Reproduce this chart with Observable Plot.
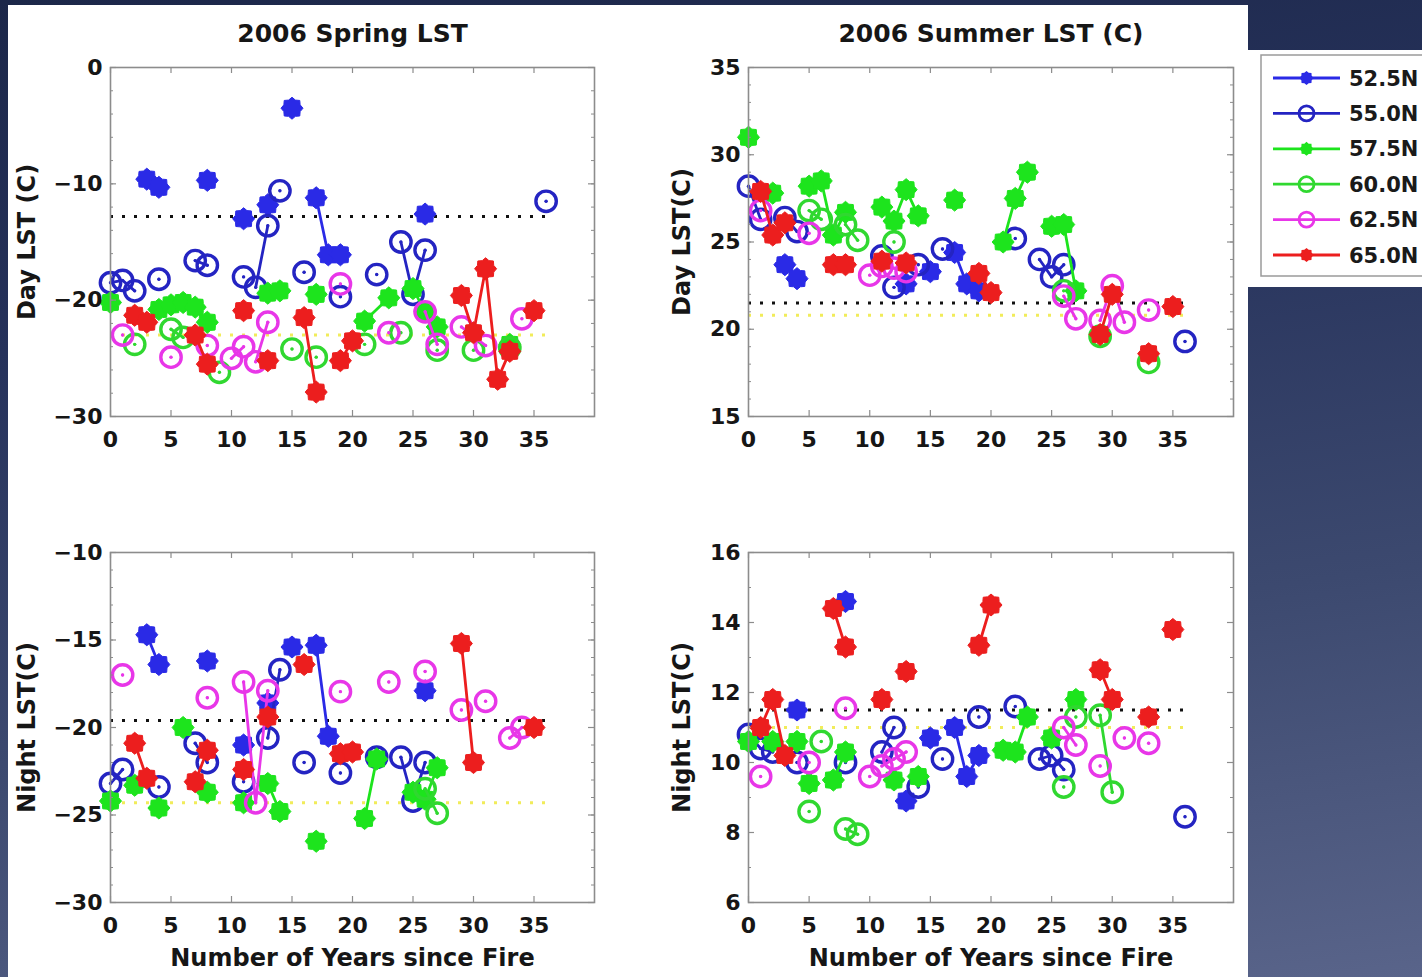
<!DOCTYPE html>
<html>
<head>
<meta charset="utf-8">
<script src="https://cdn.jsdelivr.net/npm/d3@7"></script>
<script src="https://cdn.jsdelivr.net/npm/@observablehq/plot@0.6"></script>
<style>
  html, body { margin: 0; padding: 0; }
  body {
    width: 1422px; height: 977px; overflow: hidden; position: relative;
    background: linear-gradient(172deg, #1c2749 0%, #26325b 30%, #3c496f 65%, #59648a 100%);
  }
  #sheet { position: absolute; left: 8px; top: 5px; width: 1240px; height: 972px; background: #fff; }
  .panel { position: absolute; }
  #legend { position: absolute; left: 1247px; top: 50px; width: 175px; height: 237px; background: #fff; }
</style>
</head>
<body>
<div id="sheet"></div>
<div id="legend"></div>
<script>
// Latitude bands, their colours and whether the marker is a filled burst or an open ring
const SERIES = ["52.5N", "55.0N", "57.5N", "60.0N", "62.5N", "65.0N"];
const COLORS = ["#2a2ae6", "#2424c2", "#1de41d", "#30d830", "#e836e8", "#ec1e1e"];
const FILLED = [true, false, true, false, false, true];

const xTicks = [0, 5, 10, 15, 20, 25, 30, 35];

// Rows: [series index, segment id, years since fire, LST]
const springDay = [
  [0,"a",3,-9.6],[0,"a",4,-10.3],[0,"b",8,-9.7],[0,"c",11,-13.0],[0,"d",13,-11.8],[0,"e",15,-3.5],
  [0,"f",17,-11.2],[0,"f",18,-16.1],[0,"f",19,-16.1],[0,"g",26,-12.6],
  [1,"a",0,-18.5],[1,"a",1,-18.3],[1,"a",2,-19.2],[1,"b",4,-18.2],[1,"c",7,-16.6],[1,"c",8,-17.0],
  [1,"d",11,-18.0],[1,"e",12,-18.9],[1,"e",13,-13.6],[1,"f",14,-10.6],[1,"g",16,-17.6],[1,"h",19,-19.7],
  [1,"i",22,-17.8],[1,"j",24,-15.0],[1,"j",25,-19.5],[1,"j",26,-15.7],[1,"k",36,-11.5],
  [2,"a",0,-20.2],[2,"b",4,-20.8],[2,"b",5,-20.4],[2,"b",6,-20.2],[2,"b",7,-20.6],[2,"b",8,-21.9],
  [2,"c",13,-19.4],[2,"c",14,-19.2],[2,"d",17,-19.5],[2,"e",21,-21.8],[2,"e",23,-19.8],
  [2,"f",25,-19.0],[2,"f",26,-21.0],[2,"f",27,-22.3],[2,"g",33,-23.8],
  [3,"a",2,-23.8],[3,"b",5,-22.5],[3,"b",6,-23.2],[3,"c",9,-26.2],[3,"d",15,-24.2],[3,"e",17,-24.9],
  [3,"f",21,-23.8],[3,"g",24,-22.8],[3,"h",27,-24.3],[3,"i",30,-24.3],[3,"j",33,-24.1],
  [4,"a",1,-23.0],[4,"b",5,-24.9],[4,"c",8,-23.9],[4,"d",10,-25.0],[4,"d",11,-24.0],[4,"e",12,-25.3],
  [4,"e",13,-21.9],[4,"f",19,-18.6],[4,"g",23,-22.8],[4,"h",26,-21.0],[4,"h",27,-23.8],
  [4,"i",29,-22.3],[4,"i",31,-23.9],[4,"j",34,-21.6],
  [5,"a",2,-21.3],[5,"a",3,-21.9],[5,"b",7,-23.0],[5,"b",8,-25.5],[5,"c",11,-20.9],[5,"d",13,-25.2],
  [5,"e",16,-21.5],[5,"e",17,-27.9],[5,"f",19,-25.2],[5,"f",20,-23.5],
  [5,"g",29,-19.6],[5,"g",30,-22.8],[5,"g",31,-17.3],[5,"g",32,-26.8],[5,"g",33,-24.4],[5,"h",35,-20.9]
];
const summerDay = [
  [0,"a",3,23.7],[0,"a",4,22.9],[0,"b",13,22.6],[0,"c",15,23.3],[0,"d",17,24.4],[0,"d",18,22.6],[0,"d",19,22.2],
  [1,"a",0,28.2],[1,"a",1,26.3],[1,"b",3,26.4],[1,"b",4,25.6],[1,"c",11,24.2],[1,"d",12,22.4],[1,"e",14,23.7],
  [1,"f",16,24.6],[1,"g",22,25.2],[1,"h",24,24.0],[1,"h",25,23.0],[1,"h",26,23.7],[1,"i",36,19.3],
  [2,"a",0,31.0],[2,"b",2,27.8],[2,"c",5,28.2],[2,"c",6,28.5],[2,"c",7,25.4],[2,"c",8,26.7],
  [2,"d",11,27.0],[2,"d",12,26.2],[2,"d",13,28.0],[2,"d",14,26.5],[2,"e",17,27.4],
  [2,"f",21,25.0],[2,"f",22,27.5],[2,"f",23,29.0],[2,"g",25,25.9],[2,"g",26,26.0],[2,"g",27,22.2],
  [3,"a",5,26.8],[3,"a",6,26.3],[3,"b",8,26.0],[3,"b",9,25.1],[3,"c",12,25.0],[3,"d",26,22.2],
  [3,"e",29,19.6],[3,"f",33,18.1],
  [4,"a",1,26.8],[4,"b",5,25.5],[4,"c",10,23.1],[4,"d",11,23.6],[4,"d",12,23.5],[4,"d",13,23.3],
  [4,"e",26,21.9],[4,"e",27,20.6],[4,"f",29,20.5],[4,"f",30,22.5],[4,"f",31,20.4],[4,"g",33,21.1],
  [5,"a",1,27.9],[5,"a",2,25.4],[5,"a",3,26.1],[5,"b",7,23.7],[5,"b",8,23.7],[5,"c",11,23.9],[5,"d",13,23.8],
  [5,"e",19,23.2],[5,"e",20,22.1],[5,"f",29,19.7],[5,"f",30,22.0],[5,"g",33,18.6],[5,"h",35,21.3]
];
const springNight = [
  [0,"a",3,-14.7],[0,"a",4,-16.4],[0,"b",8,-16.2],[0,"c",11,-21.0],[0,"d",13,-18.6],[0,"e",15,-15.4],
  [0,"f",17,-15.3],[0,"f",18,-20.5],[0,"g",26,-17.9],
  [1,"a",0,-23.2],[1,"a",1,-22.4],[1,"b",4,-23.4],[1,"c",7,-20.9],[1,"c",8,-22.0],[1,"d",11,-23.1],
  [1,"e",13,-20.6],[1,"e",14,-16.7],[1,"f",16,-22.0],[1,"g",19,-22.6],[1,"h",22,-21.7],
  [1,"i",24,-21.7],[1,"i",25,-24.2],[1,"i",26,-22.0],
  [2,"a",0,-24.2],[2,"b",2,-23.3],[2,"c",4,-24.6],[2,"d",6,-20.0],[2,"e",8,-23.7],[2,"f",11,-24.3],
  [2,"g",13,-23.2],[2,"g",14,-24.8],[2,"h",17,-26.5],[2,"i",21,-25.2],[2,"i",22,-21.8],
  [2,"j",25,-23.7],[2,"j",26,-24.1],[2,"j",27,-22.3],
  [3,"a",26,-23.5],[3,"a",27,-24.9],
  [4,"a",1,-17.0],[4,"b",8,-18.3],[4,"c",11,-17.4],[4,"c",12,-24.3],[4,"c",13,-17.9],[4,"d",19,-17.95],
  [4,"e",23,-17.4],[4,"f",26,-16.8],[4,"g",29,-19.0],[4,"h",31,-18.5],[4,"i",33,-20.6],[4,"i",34,-20.0],
  [5,"a",2,-20.9],[5,"a",3,-22.9],[5,"b",7,-23.1],[5,"b",8,-21.3],[5,"c",11,-22.4],[5,"d",13,-19.4],
  [5,"e",16,-16.4],[5,"f",19,-21.5],[5,"f",20,-21.4],[5,"g",29,-15.2],[5,"g",30,-22.0],[5,"h",35,-20.0]
];
const summerNight = [
  [0,"a",4,11.5],[0,"b",8,14.6],[0,"c",13,8.9],[0,"d",15,10.7],[0,"e",17,11.0],[0,"e",18,9.6],[0,"e",19,10.2],
  [1,"a",0,10.8],[1,"a",1,10.4],[1,"a",2,10.3],[1,"b",4,10.0],[1,"c",8,10.0],[1,"d",11,10.3],[1,"d",12,11.0],
  [1,"e",14,9.3],[1,"f",16,10.1],[1,"g",19,11.3],[1,"h",22,11.6],[1,"i",24,10.1],[1,"i",25,10.2],[1,"i",26,9.8],
  [1,"j",36,8.45],
  [2,"a",0,10.6],[2,"b",2,10.6],[2,"c",4,10.6],[2,"d",5,9.4],[2,"e",7,9.5],[2,"e",8,10.3],[2,"f",12,9.5],
  [2,"g",14,9.6],[2,"h",21,10.35],[2,"h",22,10.3],[2,"h",23,11.3],[2,"i",25,10.7],[2,"j",27,11.8],
  [3,"a",5,8.6],[3,"b",6,10.6],[3,"c",8,8.1],[3,"c",9,7.95],[3,"d",26,9.3],[3,"e",27,11.3],
  [3,"f",29,11.35],[3,"f",30,9.15],
  [4,"a",1,9.6],[4,"b",5,10.0],[4,"c",8,11.55],[4,"d",10,9.6],[4,"e",11,9.9],[4,"e",12,10.1],[4,"e",13,10.3],
  [4,"f",26,11.0],[4,"f",27,10.5],[4,"g",29,9.9],[4,"h",31,10.7],[4,"i",33,10.55],
  [5,"a",1,11.0],[5,"a",2,11.8],[5,"a",3,10.2],[5,"b",7,14.4],[5,"b",8,13.3],[5,"c",11,11.8],[5,"d",13,12.6],
  [5,"e",19,13.35],[5,"e",20,14.5],[5,"f",29,12.65],[5,"f",30,11.8],[5,"g",33,11.3],[5,"h",35,13.8]
];

// Reference levels: [black dotted, yellow dotted]
const springDayRefs = [-12.8, -23.0];
const summerDayRefs = [21.5, 20.8];
const springNightRefs = [-19.6, -24.3];
const summerNightRefs = [11.5, 11.0];

// Axis ticks
const springDayTicks = [0, -10, -20, -30];
const summerDayTicks = [15, 20, 25, 30, 35];
const springNightTicks = [-10, -15, -20, -25, -30];
const summerNightTicks = [6, 8, 10, 12, 14, 16];
const springDayMinor = d3.range(-30, 0.1, 2);
const summerDayMinor = d3.range(15, 35.1, 1);
const springNightMinor = d3.range(-30, -9.9, 1);
const summerNightMinor = d3.range(6, 16.1, 1);

const FONT = "'DejaVu Sans', 'Liberation Sans', sans-serif";
const AXIS = "#8c8c8c";

// Filled many-pointed burst used for the "*" markers
const burst = {
  draw(ctx, size) {
    const r = Math.sqrt(size / Math.PI);
    const n = 8;
    for (let i = 0; i < 2 * n; ++i) {
      const a = (i * Math.PI) / n - Math.PI / 2;
      const rr = i % 2 ? r * 0.8 : r;
      const px = rr * Math.cos(a), py = rr * Math.sin(a);
      if (i === 0) ctx.moveTo(px, py); else ctx.lineTo(px, py);
    }
    ctx.closePath();
  }
};

function seriesMarks(rows) {
  const marks = [];
  SERIES.forEach((name, k) => {
    const pts = rows.filter(d => d[0] === k);
    const color = COLORS[k];
    const x = d => d[2], y = d => d[3];
    marks.push(Plot.line(pts, {x, y, z: d => d[1], stroke: color, strokeWidth: 2.8}));
    if (FILLED[k]) {
      marks.push(Plot.dot(pts, {x, y, symbol: burst, r: 11, fill: color, stroke: color, strokeWidth: 1}));
    } else {
      marks.push(Plot.dot(pts, {x, y, r: 10.2, stroke: color, strokeWidth: 3.4, fill: "none"}));
      marks.push(Plot.dot(pts, {x, y, r: 1.7, fill: color}));
    }
  });
  return marks;
}

function panel(o) {
  const W = o.w, H = o.h;
  const mL = 110, mR = 20;
  const mT = o.title ? 62 : 22;
  const mB = o.xLabel ? 78 : 44;
  const y = d => d;
  const marks = [
    Plot.ruleY(o.refs.slice(0, 1), {y, x1: 0, x2: 36, stroke: "#111", strokeWidth: 3, strokeDasharray: "3 9"}),
    Plot.ruleY(o.refs.slice(1), {y, x1: 0, x2: 36, stroke: "#f1ec5a", strokeWidth: 3, strokeDasharray: "3 9"}),
    ...seriesMarks(o.rows),
    Plot.frame({stroke: AXIS, strokeWidth: 1.6}),
    Plot.ruleX(xTicks, {x: d => d, insetTop: H - 6, stroke: AXIS, strokeWidth: 1.2}),
    Plot.ruleX(xTicks, {x: d => d, insetBottom: H - 6, stroke: AXIS, strokeWidth: 1.2}),
    Plot.ruleY(o.yMinor, {y, insetRight: W - 3, stroke: AXIS, strokeWidth: 1}),
    Plot.ruleY(o.yMinor, {y, insetLeft: W - 3, stroke: AXIS, strokeWidth: 1}),
    Plot.ruleY(o.yTicks, {y, insetRight: W - 6, stroke: AXIS, strokeWidth: 1.2}),
    Plot.ruleY(o.yTicks, {y, insetLeft: W - 6, stroke: AXIS, strokeWidth: 1.2}),
    Plot.axisX(xTicks, {anchor: "bottom", tickSize: 0, tickPadding: 15, label: null, fontSize: 22}),
    Plot.axisY(o.yTicks, {anchor: "left", tickSize: 0, tickPadding: 8, label: null, fontSize: 22}),
    Plot.text([o.yLabel], {text: d => d, frameAnchor: "left", textAnchor: "middle", dx: o.yLabelDx, rotate: -90, fontSize: 24})
  ];
  if (o.title) marks.push(Plot.text([o.title], {text: d => d, frameAnchor: "top", dy: -43, fontSize: 25}));
  if (o.xLabel) marks.push(Plot.text([o.xLabel], {text: d => d, frameAnchor: "bottom", dy: 63, fontSize: 24}));

  const svg = Plot.plot({
    width: mL + W + mR,
    height: mT + H + mB,
    marginLeft: mL, marginRight: mR, marginTop: mT, marginBottom: mB,
    x: {domain: [0, 40]},
    y: {domain: o.yDomain},
    style: {fontFamily: FONT, fontWeight: "bold", fontSize: "22px", color: "#161616", background: "transparent", overflow: "visible"},
    marks
  });
  svg.classList.add("panel");
  svg.style.left = (o.left - mL) + "px";
  svg.style.top = (o.top - mT) + "px";
  document.body.appendChild(svg);
}

panel({rows: springDay, refs: springDayRefs, yDomain: [-30, 0], yTicks: springDayTicks, yMinor: springDayMinor,
  yLabel: "Day LST (C)", yLabelDx: -83, title: "2006 Spring LST", left: 110, top: 67, w: 484, h: 349});
panel({rows: summerDay, refs: summerDayRefs, yDomain: [15, 35], yTicks: summerDayTicks, yMinor: summerDayMinor,
  yLabel: "Day LST(C)", yLabelDx: -66, title: "2006 Summer LST (C)", left: 748, top: 67, w: 485, h: 349});
panel({rows: springNight, refs: springNightRefs, yDomain: [-30, -10], yTicks: springNightTicks, yMinor: springNightMinor,
  yLabel: "Night LST(C)", yLabelDx: -83, xLabel: "Number of Years since Fire", left: 110, top: 552, w: 484, h: 350});
panel({rows: summerNight, refs: summerNightRefs, yDomain: [6, 16], yTicks: summerNightTicks, yMinor: summerNightMinor,
  yLabel: "Night LST(C)", yLabelDx: -66, xLabel: "Number of Years since Fire", left: 748, top: 552, w: 485, h: 350});

// Legend box to the right of the panels
const lg = d3.select("#legend").append("svg")
  .attr("width", 175).attr("height", 237)
  .style("font-family", FONT);
lg.append("rect").attr("x", 14).attr("y", 5).attr("width", 200).attr("height", 221)
  .attr("fill", "#fff").attr("stroke", "#9a9a9a").attr("stroke-width", 1.5);
SERIES.forEach((name, k) => {
  const g = lg.append("g").attr("transform", `translate(0,${28 + k * 35.4})`);
  g.append("line").attr("x1", 26).attr("x2", 93).attr("stroke", COLORS[k]).attr("stroke-width", 2.8);
  if (FILLED[k]) {
    const p = d3.path();
    burst.draw(p, 7 * 7 * Math.PI);
    g.append("path").attr("d", p.toString()).attr("transform", "translate(59.5,0)").attr("fill", COLORS[k]);
  } else {
    g.append("circle").attr("cx", 59.5).attr("r", 7.5).attr("fill", "none")
      .attr("stroke", COLORS[k]).attr("stroke-width", 2.8);
  }
  g.append("text").attr("x", 102).attr("dy", "0.36em").attr("font-size", 21).attr("font-weight", "bold")
    .attr("fill", "#1a1a1a").text(name);
});
</script>
</body>
</html>
